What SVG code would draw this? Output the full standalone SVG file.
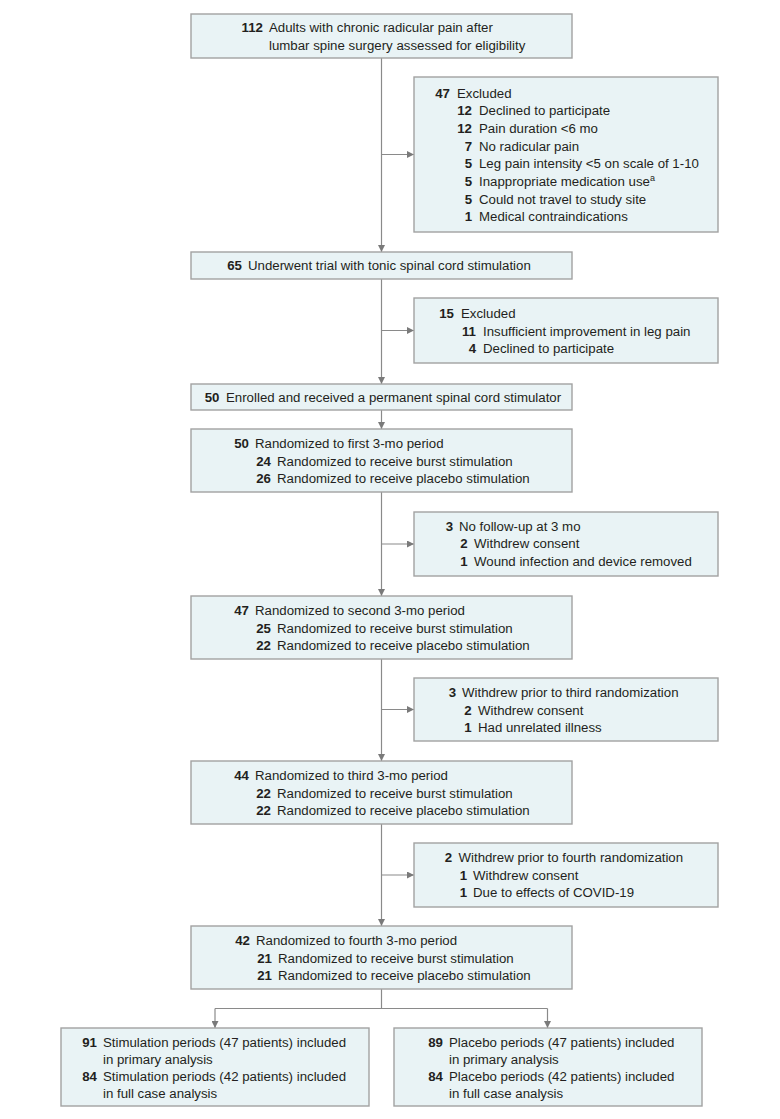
<svg xmlns="http://www.w3.org/2000/svg" width="780" height="1119" viewBox="0 0 780 1119">
<style>
.box{fill:#e9f3f5;stroke:#a2a2a2;stroke-width:1.4}
text{font-family:"Liberation Sans",Arial,sans-serif;font-size:13.25px;fill:#231f20}
.n{font-weight:bold;text-anchor:end}
.sup{font-size:9px}
.c{fill:none;stroke:#8a8a8a;stroke-width:1.2}
</style>
<defs>
<marker id="ah" viewBox="0 0 10 10" refX="10" refY="5" markerWidth="7" markerHeight="7" markerUnits="userSpaceOnUse" orient="auto">
<path d="M0,0 L10,5 L0,10 z" fill="#7a7a7a"/>
</marker>
</defs>
<rect width="780" height="1119" fill="#ffffff"/>
<g id="connectors">
<path class="c" d="M381.5,58 V252" marker-end="url(#ah)"/>
<path class="c" d="M381.5,154.5 H414" marker-end="url(#ah)"/>
<path class="c" d="M381.5,279 V384" marker-end="url(#ah)"/>
<path class="c" d="M381.5,330.5 H414" marker-end="url(#ah)"/>
<path class="c" d="M381.5,410 V429" marker-end="url(#ah)"/>
<path class="c" d="M381.5,492 V596" marker-end="url(#ah)"/>
<path class="c" d="M381.5,544 H414" marker-end="url(#ah)"/>
<path class="c" d="M381.5,659 V761" marker-end="url(#ah)"/>
<path class="c" d="M381.5,709.5 H414" marker-end="url(#ah)"/>
<path class="c" d="M381.5,824 V926" marker-end="url(#ah)"/>
<path class="c" d="M381.5,875 H414" marker-end="url(#ah)"/>
<path class="c" d="M381.5,989 V1008.5 M215,1008.5 H547.5"/>
<path class="c" d="M215,1008.5 V1028" marker-end="url(#ah)"/>
<path class="c" d="M547.5,1008.5 V1028" marker-end="url(#ah)"/>
</g>
<g id="assessed">
<rect class="box" x="191" y="14" width="381" height="44"/>
<text class="n" x="263" y="32">112</text>
<text x="269" y="32">Adults with chronic radicular pain after</text>
<text x="269" y="50">lumbar spine surgery assessed for eligibility</text>
</g>
<g id="excluded1">
<rect class="box" x="414" y="77" width="304" height="155"/>
<text class="n" x="450" y="97.5">47</text><text x="457" y="97.5">Excluded</text>
<text class="n" x="472" y="115.2">12</text><text x="479" y="115.2">Declined to participate</text>
<text class="n" x="472" y="132.9">12</text><text x="479" y="132.9">Pain duration &lt;6 mo</text>
<text class="n" x="472" y="150.6">7</text><text x="479" y="150.6">No radicular pain</text>
<text class="n" x="472" y="168.3">5</text><text x="479" y="168.3">Leg pain intensity &lt;5 on scale of 1-10</text>
<text class="n" x="472" y="186">5</text><text x="479" y="186">Inappropriate medication use<tspan class="sup" dy="-5">a</tspan></text>
<text class="n" x="472" y="203.7">5</text><text x="479" y="203.7">Could not travel to study site</text>
<text class="n" x="472" y="221.4">1</text><text x="479" y="221.4">Medical contraindications</text>
</g>
<g id="trial">
<rect class="box" x="191" y="252" width="381" height="27"/>
<text class="n" x="242" y="270">65</text>
<text x="248" y="270">Underwent trial with tonic spinal cord stimulation</text>
</g>
<g id="excluded2">
<rect class="box" x="414" y="298" width="304" height="65"/>
<text class="n" x="454" y="318">15</text><text x="461" y="318">Excluded</text>
<text class="n" x="476" y="335.5">11</text><text x="483" y="335.5">Insufficient improvement in leg pain</text>
<text class="n" x="476" y="353">4</text><text x="483" y="353">Declined to participate</text>
</g>
<g id="enrolled">
<rect class="box" x="191" y="384" width="381" height="26"/>
<text class="n" x="219.5" y="402">50</text>
<text x="226" y="402">Enrolled and received a permanent spinal cord stimulator</text>
</g>
<g id="period1">
<rect class="box" x="191" y="429" width="381" height="63"/>
<text class="n" x="249" y="448">50</text><text x="255" y="448">Randomized to first 3-mo period</text>
<text class="n" x="271" y="465.6">24</text><text x="277" y="465.6">Randomized to receive burst stimulation</text>
<text class="n" x="271" y="483.2">26</text><text x="277" y="483.2">Randomized to receive placebo stimulation</text>
</g>
<g id="excluded3">
<rect class="box" x="414" y="512" width="304" height="64"/>
<text class="n" x="453" y="530.5">3</text><text x="459" y="530.5">No follow-up at 3 mo</text>
<text class="n" x="467.5" y="548">2</text><text x="474" y="548">Withdrew consent</text>
<text class="n" x="467.5" y="565.5">1</text><text x="474" y="565.5">Wound infection and device removed</text>
</g>
<g id="period2">
<rect class="box" x="191" y="596" width="381" height="63"/>
<text class="n" x="249" y="615">47</text><text x="255" y="615">Randomized to second 3-mo period</text>
<text class="n" x="271" y="632.6">25</text><text x="277" y="632.6">Randomized to receive burst stimulation</text>
<text class="n" x="271" y="650.2">22</text><text x="277" y="650.2">Randomized to receive placebo stimulation</text>
</g>
<g id="excluded4">
<rect class="box" x="414" y="678" width="304" height="63"/>
<text class="n" x="456" y="697">3</text><text x="462" y="697">Withdrew prior to third randomization</text>
<text class="n" x="471.5" y="714.5">2</text><text x="478" y="714.5">Withdrew consent</text>
<text class="n" x="471.5" y="732">1</text><text x="478" y="732">Had unrelated illness</text>
</g>
<g id="period3">
<rect class="box" x="191" y="761" width="381" height="63"/>
<text class="n" x="249" y="780">44</text><text x="255" y="780">Randomized to third 3-mo period</text>
<text class="n" x="271" y="797.6">22</text><text x="277" y="797.6">Randomized to receive burst stimulation</text>
<text class="n" x="271" y="815.2">22</text><text x="277" y="815.2">Randomized to receive placebo stimulation</text>
</g>
<g id="excluded5">
<rect class="box" x="414" y="843" width="304" height="64"/>
<text class="n" x="452" y="862">2</text><text x="458.5" y="862">Withdrew prior to fourth randomization</text>
<text class="n" x="467" y="879.5">1</text><text x="473" y="879.5">Withdrew consent</text>
<text class="n" x="467" y="897">1</text><text x="473" y="897">Due to effects of COVID-19</text>
</g>
<g id="period4">
<rect class="box" x="191" y="926" width="381" height="63"/>
<text class="n" x="250" y="945">42</text><text x="256" y="945">Randomized to fourth 3-mo period</text>
<text class="n" x="272" y="962.6">21</text><text x="278" y="962.6">Randomized to receive burst stimulation</text>
<text class="n" x="272" y="980.2">21</text><text x="278" y="980.2">Randomized to receive placebo stimulation</text>
</g>
<g id="stimulation">
<rect class="box" x="61" y="1028" width="308" height="78"/>
<text class="n" x="97" y="1046.5">91</text><text x="103" y="1046.5">Stimulation periods (47 patients) included</text>
<text x="103" y="1063.5">in primary analysis</text>
<text class="n" x="97" y="1081">84</text><text x="103" y="1081">Stimulation periods (42 patients) included</text>
<text x="103" y="1098">in full case analysis</text>
</g>
<g id="placebo">
<rect class="box" x="394" y="1028" width="308" height="78"/>
<text class="n" x="443" y="1046.5">89</text><text x="449" y="1046.5">Placebo periods (47 patients) included</text>
<text x="449" y="1063.5">in primary analysis</text>
<text class="n" x="443" y="1081">84</text><text x="449" y="1081">Placebo periods (42 patients) included</text>
<text x="449" y="1098">in full case analysis</text>
</g>
</svg>
